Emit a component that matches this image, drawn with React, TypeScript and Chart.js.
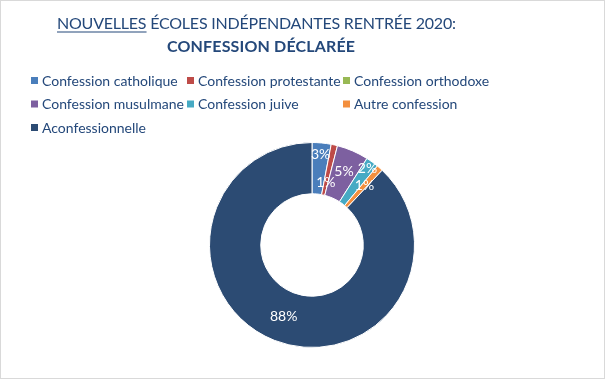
import React, { useEffect, useRef } from "react";
import { Chart, registerables } from "chart.js";
Chart.register(...registerables);

const categories = [
  "Confession catholique",
  "Confession protestante",
  "Confession orthodoxe",
  "Confession musulmane",
  "Confession juive",
  "Autre confession",
  "Aconfessionnelle",
];
const shares = [3, 1, 0, 5, 2, 1, 88];
const sliceColors = ["#4a7ebb", "#be4b48", "#98b954", "#7d60a0", "#46aac4", "#f38f3e", "#2c4b73"];
const titleUnderlined = "NOUVELLES";
const titleRest = " ÉCOLES INDÉPENDANTES RENTRÉE 2020:";
const titleBold = "CONFESSION DÉCLARÉE";

const TEXT = "#24487a";
const FONT = "Lato, 'Open Sans', sans-serif";
// radial position of each data label inside the ring (0 = inner edge, 1 = outer edge)
const labelRadial = [0.78, 0.24, 0.5, 0.57, 0.84, 0.55, 0.5];

function drawSpaced(ctx: CanvasRenderingContext2D, text: string, x: number, y: number, width: number) {
  (ctx as any).letterSpacing = "0px";
  const w = ctx.measureText(text).width;
  const n = [...text].length;
  const ls = n > 1 ? (width - w) / (n - 1) : 0;
  (ctx as any).letterSpacing = ls + "px";
  ctx.fillText(text, x, y);
  (ctx as any).letterSpacing = "0px";
  return ls;
}

const decorPlugin = {
  id: "decor",
  afterDraw(chart: any) {
    const ctx: CanvasRenderingContext2D = chart.ctx;
    ctx.save();
    // Title line 1
    ctx.fillStyle = TEXT;
    ctx.textBaseline = "alphabetic";
    ctx.textAlign = "left";
    ctx.font = `400 16px ${FONT}`;
    const full = titleUnderlined + titleRest;
    const x1 = 57;
    const ls = drawSpaced(ctx, full, x1, 29, 399);
    (ctx as any).letterSpacing = ls + "px";
    const uw = ctx.measureText(titleUnderlined).width - ls;
    (ctx as any).letterSpacing = "0px";
    ctx.fillRect(x1, 31.5, uw, 1);
    // Title line 2
    ctx.font = `700 16px ${FONT}`;
    drawSpaced(ctx, titleBold, 167, 52, 188);

    // Legend
    const ds = chart.data.datasets[0];
    ctx.font = `400 14px ${FONT}`;
    ctx.textBaseline = "middle";
    chart.data.labels.forEach((lab: string, i: number) => {
      const col = i % 3;
      const row = Math.floor(i / 3);
      const x = 31 + col * 156;
      const y = 80 + row * 23.5;
      ctx.fillStyle = ds.backgroundColor[i];
      ctx.fillRect(x, y - 3, 7, 7);
      ctx.fillStyle = TEXT;
      ctx.fillText(lab, x + 11, y + 1);
    });

    // Data labels
    const meta = chart.getDatasetMeta(0);
    ctx.fillStyle = "#ffffff";
    ctx.font = `400 14px ${FONT}`;
    ctx.textAlign = "center";
    ctx.textBaseline = "middle";
    meta.data.forEach((arc: any, i: number) => {
      const v = ds.data[i];
      if (!v) return;
      const p = arc.getProps(["x", "y", "startAngle", "endAngle", "innerRadius", "outerRadius"], true);
      const a = (p.startAngle + p.endAngle) / 2;
      const r = p.innerRadius + (p.outerRadius - p.innerRadius) * labelRadial[i];
      ctx.fillText(v + "%", p.x + Math.cos(a) * r, p.y + Math.sin(a) * r);
    });
    ctx.restore();
  },
};

export default function App() {
  const ref = useRef<HTMLCanvasElement>(null);
  useEffect(() => {
    document.body.style.margin = "0";
    const chart = new Chart(ref.current!, {
      type: "doughnut",
      data: {
        labels: categories,
        datasets: [
          {
            data: shares,
            backgroundColor: sliceColors,
            borderColor: "#ffffff",
            borderWidth: 1,
          },
        ],
      },
      options: {
        animation: false,
        responsive: false,
        cutout: "50%",
        layout: { padding: { top: 142, bottom: 31, left: 19, right: 0 } },
        plugins: { legend: { display: false }, tooltip: { enabled: false }, title: { display: false } },
      },
      plugins: [decorPlugin],
    });
    return () => chart.destroy();
  }, []);
  return (
    <div style={{ position: "relative", width: 605, height: 379, background: "#fff" }}>
      <canvas ref={ref} width={605} height={379} style={{ position: "absolute", left: 0, top: 0 }} />
      <div
        style={{
          position: "absolute",
          left: 0,
          top: 0,
          width: 605,
          height: 379,
          boxSizing: "border-box",
          border: "1px solid #d9d9d9",
          pointerEvents: "none",
        }}
      />
    </div>
  );
}
